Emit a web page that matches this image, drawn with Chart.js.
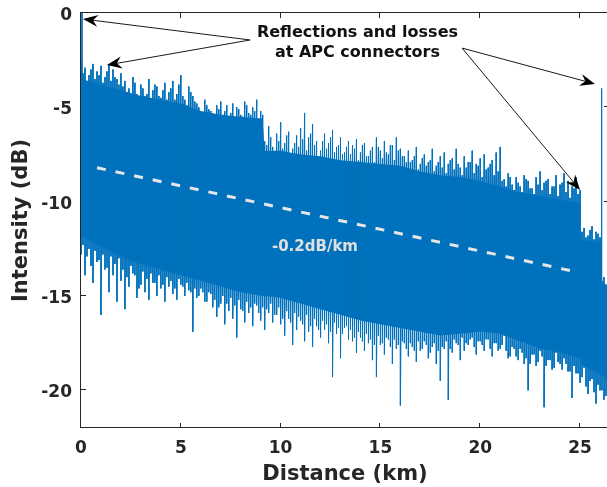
<!DOCTYPE html>
<html>
<head>
<meta charset="utf-8">
<script src="https://cdn.jsdelivr.net/npm/chart.js@4.4.1/dist/chart.umd.min.js"></script>
<style>
  html, body { margin: 0; padding: 0; background: #fff; overflow: hidden; }
  #wrap { width: 620px; height: 487px; }
</style>
</head>
<body>
<div id="wrap"><canvas id="otdr" width="620" height="487"></canvas></div>
<script>
// OTDR trace, noise peaks in dB. traceTop/traceBottom sit at 0.0, 0.2, 0.4 ... km,
// the *Mid arrays at 0.1, 0.3, 0.5 ... km
const traceStepKm = 0.2;
const traceTop = [
  -2.6, -2.9, -3.3, -2.7, -3.1, -2.8, -3.4,
  -2.7, -3.0, -3.5, -3.2,
  -3.6, -4.0, -3.4, -4.3, -3.8, -4.4, -3.5, -4.1, -3.9, -4.5, -3.7, -4.2,
  -3.6, -4.3, -3.3, -4.6, -3.9, -4.4,
  -4.8, -5.3, -4.6, -5.1, -5.5, -4.9, -4.7, -5.2, -5.6, -4.8, -5.0, -5.4, -4.7, -5.3, -5.0, -4.6, -5.2,
  -6.8, -6.0, -7.1, -6.4, -5.8, -6.9, -6.3, -7.2, -6.5, -6.1, -5.3, -6.6, -5.9, -6.8, -7.3, -6.4, -6.9, -6.2, -7.1, -6.6, -7.4, -6.8,
  -7.0, -6.7, -7.4, -6.9, -7.6, -7.1, -6.6, -7.3, -6.8, -7.5, -7.0, -6.6, -7.2, -7.6,
  -7.3, -7.8, -7.1, -8.0, -7.5, -7.9, -7.2, -8.1, -7.6, -7.4, -8.0, -7.7, -7.2, -8.2, -7.6, -7.9, -7.3, -8.0, -7.7, -7.5, -8.2, -7.8, -7.4, -7.1,
  -8.8, -8.5, -9.1, -8.7, -9.2, -8.6, -8.9, -9.3, -8.7, -8.4, -9.0, -8.8, -9.2, -8.6, -9.1, -8.5, -8.9, -9.2, -8.7, -9.4,
  -11.4, -11.8, -11.3, -11.6, -11.9,
  -14.0, -14.3
];
const traceTopMid = [
  -3.2, -3.6, -3.0, -3.5, -3.3, -3.7, -3.1, -3.6, -3.4, -3.8,
  -3.9, -4.2, -4.6, -3.7, -4.5, -4.0, -4.3, -4.7, -3.8, -4.4, -4.1, -4.6,
  -4.0, -4.6, -3.8, -4.4, -4.9, -4.2,
  -4.7, -5.0, -5.4, -4.9, -5.2, -5.6, -5.1, -5.4, -4.9, -5.3, -5.7, -5.1, -5.5, -4.9, -5.4, -5.2, -5.6,
  -5.4,
  -7.0, -6.6, -7.4, -6.8, -7.2, -6.5, -7.5, -6.9, -7.1, -6.7, -7.3, -6.4, -7.0, -7.6, -6.8, -7.2, -6.6, -7.4, -7.0, -7.5, -7.1,
  -7.5, -7.2, -7.8, -7.0, -7.6, -7.3, -7.9, -7.1, -7.7, -7.4, -7.0, -7.8, -7.3, -7.6, -7.9,
  -7.9, -7.6, -8.3, -7.7, -8.1, -7.8, -8.4, -7.9, -8.2, -8.5, -7.8, -8.3, -8.0, -8.6, -8.2, -7.9, -8.5, -8.1, -8.7, -8.3, -8.0, -8.6, -8.4,
  -8.9, -9.2, -8.7, -9.4, -9.0, -9.5, -8.8, -9.3, -9.6, -9.1, -9.4, -8.9, -9.6, -9.2, -9.7, -9.0, -9.5, -9.8, -9.3, -9.6,
  -11.6, -11.9, -11.5, -12.0, -11.7, -14.2,
  -14.4
];
const traceBottom = [
  -12.8, -13.9, -12.5, -14.3, -13.2,
  -16.0,
  -13.6, -14.8, -13.9, -15.3, -14.2, -15.7, -14.5, -13.8, -15.1, -14.4,
  -14.8, -15.2, -14.3, -15.0, -14.6, -15.3, -14.5, -14.9, -15.2, -14.4, -15.0, -14.7, -16.9, -15.1, -14.6, -15.3, -14.8,
  -15.6, -16.1, -15.4, -16.5, -15.8, -16.2, -17.2, -15.7, -16.4, -15.9, -16.6, -15.5, -16.3, -16.8, -15.9, -16.4, -16.0,
  -16.5, -17.1, -16.2, -17.6, -16.8, -16.3, -17.4, -16.9, -17.7, -16.6, -17.2, -16.8, -17.5, -19.3, -17.0, -18.3, -16.7, -17.3,
  -17.4, -18.0, -17.2, -17.9, -17.5, -18.4, -19.3, -17.6, -18.1, -17.3, -18.6, -17.8, -20.8, -17.5, -18.2, -17.7, -18.5,
  -17.9, -17.4, -18.3, -17.7, -18.6, -19.5, -17.8, -20.5, -18.0, -17.5, -18.4, -17.9,
  -17.6, -17.2, -18.1, -17.4, -17.9, -17.3, -18.2, -17.5, -17.8, -17.1, -18.3, -17.7,
  -18.2, -17.8, -18.6, -20.0, -18.1, -18.7, -17.9, -20.9, -18.4, -18.9, -18.0, -18.6, -18.3, -19.0,
  -20.4, -19.1, -19.6, -18.8, -20.2, -19.4, -20.7, -20.0, -20.5, -21.0
];
const traceBottomMid = [
  -12.3, -12.9, -13.4, -12.6, -13.1, -12.8, -13.5, -12.9, -13.3, -13.0,
  -13.6, -14.0, -13.4, -13.9, -14.6, -13.7, -14.1, -13.8, -14.3, -13.9, -14.4, -14.0,
  -14.2, -14.6, -14.1, -14.5, -14.3, -14.8,
  -14.6, -15.0, -14.8, -15.3, -14.9, -15.2, -15.6, -15.0, -15.4, -15.1, -15.5, -15.2, -15.8, -15.3, -15.6, -15.4, -15.9,
  -15.6,
  -15.7, -15.4, -16.0, -15.6, -16.2, -15.8, -16.4, -15.9, -16.1, -16.5, -16.0, -16.6, -16.2, -16.8, -16.3, -16.5, -16.9, -16.4, -16.7, -17.0, -16.6,
  -16.8, -17.2, -16.9, -17.4, -17.0, -17.3, -17.6, -17.1, -17.5, -17.2, -17.7, -17.3, -17.6, -17.4, -17.8,
  -17.5, -17.9, -17.4, -17.8, -17.6, -18.0, -17.5, -17.9, -17.7, -17.4, -17.8, -17.3, -17.6, -17.2, -17.5, -17.3, -17.7, -17.4, -17.6, -17.3, -17.8, -17.5, -17.9,
  -17.6, -17.9, -18.2, -17.8, -18.4, -18.0, -18.3, -18.6, -18.1, -18.5, -18.2, -18.7, -18.4, -18.8, -18.5, -18.9, -18.6, -19.0, -18.7, -19.1,
  -19.3, -19.8, -19.5, -20.1, -19.7, -20.0, -20.3
];

// solid body of the backscatter band
const coreKm     = [0, 1, 2, 3, 4, 5, 6, 7, 8, 9.1, 9.2, 10, 11, 12, 13, 14, 15, 16, 17, 18, 19, 20, 21, 22, 23, 24, 25.0, 25.05, 26.05, 26.1, 26.45];
const coreTop    = [-3.5, -3.8, -4.1, -4.4, -4.6, -4.8, -5.2, -5.4, -5.5, -5.6, -7.3, -7.3, -7.5, -7.6, -7.8, -7.9, -8.0, -8.1, -8.4, -8.6, -8.7, -8.9, -9.2, -9.5, -9.7, -9.9, -10.1, -12.0, -12.2, -14.3, -14.5];
const coreBottom = [-11.8, -12.4, -12.9, -13.3, -13.6, -13.9, -14.2, -14.5, -14.8, -15.0, -15.0, -15.1, -15.4, -15.7, -16.0, -16.3, -16.5, -16.7, -16.9, -17.1, -17.0, -16.9, -17.0, -17.4, -17.8, -18.0, -18.3, -18.6, -19.2, -19.2, -19.6];

// reflections at the APC connectors
const eventKm    = [0.05, 26.08];
const eventPeak  = [0, -4.0];
const eventFloor = [-11.0, -14.5];

// fitted attenuation line
const slopeKm = [0.8, 24.7];
const slopeDb = [-8.2, -13.7];
const slopeText = '-0.2dB/km';

const xTicks = [0, 5, 10, 15, 20, 25];
const yTicks = [-20, -15, -10, -5, 0];

const noteLines = ['Reflections and losses', 'at APC connectors'];

const BLUE = '#0072BD';
const INK = '#262626';
const FONT = '"DejaVu Sans", sans-serif';

// zigzag through upper/lower peaks so each sample becomes a vertical stroke
const tracePts = [];
function addSample(km, hi, lo) {
  tracePts.push({x: km, y: hi}, {x: km, y: lo});
}
traceTop.forEach((hi, i) => {
  const km = i * traceStepKm;
  addSample(+km.toFixed(2), hi, traceBottom[i]);
  if (i < traceTopMid.length) {
    addSample(+(km + traceStepKm / 2).toFixed(2), traceTopMid[i], traceBottomMid[i]);
  }
});

const eventPts = [];
eventKm.forEach((km, i) => {
  if (i) eventPts.push({x: km, y: null});
  eventPts.push({x: km, y: eventPeak[i]}, {x: km, y: eventFloor[i]});
});

// annotation placement, in axis units
const notes = {
  text: {km: 13.85, db: [-1.06, -2.12]},
  slope: {km: 11.72, db: -12.4},
  arrows: [
    {from: [8.47, -1.43], to: [0.10, -0.32]},
    {from: [8.47, -1.43], to: [1.30, -2.76]},
    {from: [19.09, -1.86], to: [25.75, -3.76]},
    {from: [19.09, -1.86], to: [25.00, -9.38]}
  ]
};

function drawArrow(ctx, x0, y0, x1, y1) {
  const ang = Math.atan2(y1 - y0, x1 - x0);
  const len = 15, half = 6, notch = 10;
  ctx.beginPath();
  ctx.moveTo(x0, y0);
  ctx.lineTo(x1 - Math.cos(ang) * notch, y1 - Math.sin(ang) * notch);
  ctx.stroke();
  ctx.save();
  ctx.translate(x1, y1);
  ctx.rotate(ang);
  ctx.beginPath();
  ctx.moveTo(0, 0);
  ctx.lineTo(-len, -half);
  ctx.lineTo(-notch, 0);
  ctx.lineTo(-len, half);
  ctx.closePath();
  ctx.fill();
  ctx.restore();
}

const overlay = {
  id: 'overlay',
  beforeDatasetsDraw(chart) {
    // inward tick marks on all four sides (under the trace)
    const {ctx, chartArea: a, scales: {x, y}} = chart;
    ctx.save();
    ctx.strokeStyle = INK;
    ctx.lineWidth = 1;
    ctx.beginPath();
    xTicks.forEach(v => {
      const px = Math.round(x.getPixelForValue(v)) - 0.5;
      ctx.moveTo(px, a.bottom); ctx.lineTo(px, a.bottom - 5);
      ctx.moveTo(px, a.top); ctx.lineTo(px, a.top + 5);
    });
    yTicks.forEach(v => {
      const py = Math.round(y.getPixelForValue(v)) - 0.5;
      ctx.moveTo(a.left, py); ctx.lineTo(a.left + 5, py);
      ctx.moveTo(a.right, py); ctx.lineTo(a.right - 5, py);
    });
    ctx.stroke();
    ctx.restore();
  },
  afterDatasetsDraw(chart) {
    const {ctx, chartArea: a, scales: {x, y}} = chart;
    ctx.save();
    // box
    ctx.strokeStyle = INK;
    ctx.lineWidth = 1;
    ctx.strokeRect(a.left - 0.5, a.top - 0.5, a.right - a.left, a.bottom - a.top);

    // slope label
    ctx.font = 'bold 15px ' + FONT;
    ctx.fillStyle = '#e0e0e0';
    ctx.textAlign = 'center';
    ctx.textBaseline = 'middle';
    ctx.fillText(slopeText, x.getPixelForValue(notes.slope.km), y.getPixelForValue(notes.slope.db));

    // connector note
    ctx.font = 'bold 16px ' + FONT;
    ctx.fillStyle = '#111';
    noteLines.forEach((t, i) => {
      ctx.fillText(t, x.getPixelForValue(notes.text.km), y.getPixelForValue(notes.text.db[i]));
    });

    ctx.strokeStyle = '#1a1a1a';
    ctx.fillStyle = '#000';
    ctx.lineWidth = 1;
    notes.arrows.forEach(ar => {
      drawArrow(ctx,
        x.getPixelForValue(ar.from[0]), y.getPixelForValue(ar.from[1]),
        x.getPixelForValue(ar.to[0]), y.getPixelForValue(ar.to[1]));
    });
    ctx.restore();
  }
};

// keep the plot box where the layout padding puts it (no room reserved for edge labels)
function noEdgePadding(s) {
  s.paddingTop = 0; s.paddingBottom = 0; s.paddingLeft = 0; s.paddingRight = 0;
}

Chart.defaults.font.family = FONT;
Chart.defaults.color = INK;

new Chart(document.getElementById('otdr'), {
  type: 'line',
  data: {
    datasets: [
      {
        data: coreKm.map((km, i) => ({x: km, y: coreTop[i]})),
        fill: '+1', backgroundColor: BLUE, borderWidth: 0, pointRadius: 0, order: 4
      },
      {
        data: coreKm.map((km, i) => ({x: km, y: coreBottom[i]})),
        fill: false, borderWidth: 0, pointRadius: 0, order: 4
      },
      {
        data: tracePts,
        borderColor: BLUE, borderWidth: 1, borderJoinStyle: 'bevel',
        pointRadius: 0, tension: 0, fill: false, order: 3
      },
      {
        data: eventPts,
        borderColor: BLUE, borderWidth: 1, pointRadius: 0, spanGaps: false, fill: false, order: 2
      },
      {
        data: slopeKm.map((km, i) => ({x: km, y: slopeDb[i]})),
        borderColor: '#e6e6e6', borderWidth: 3, borderDash: [9, 10], borderCapStyle: 'butt',
        pointRadius: 0, fill: false, order: 1
      }
    ]
  },
  options: {
    responsive: false,
    animation: false,
    events: [],
    layout: {padding: {left: 0, top: 13, right: 11, bottom: 0}},
    plugins: {legend: {display: false}, tooltip: {enabled: false}},
    scales: {
      x: {
        type: 'linear', min: 0, max: 26.45,
        grid: {display: false, drawTicks: false},
        border: {display: false},
        afterBuildTicks: s => { s.ticks = xTicks.map(v => ({value: v})); },
        afterFit: s => { s.height = 59; noEdgePadding(s); },
        ticks: {padding: 10, maxRotation: 0, font: {size: 17, weight: 'bold'}, color: INK},
        title: {display: true, text: 'Distance (km)', color: INK,
                font: {size: 21, weight: 'bold', lineHeight: 1.2}, padding: {top: 0, bottom: 0}}
      },
      y: {
        type: 'linear', min: -22, max: 0,
        grid: {display: false, drawTicks: false},
        border: {display: false},
        afterBuildTicks: s => { s.ticks = yTicks.map(v => ({value: v})); },
        afterFit: s => { s.width = 81; noEdgePadding(s); },
        ticks: {padding: 9, labelOffset: 2.5, font: {size: 17, weight: 'bold'}, color: INK},
        title: {display: true, text: 'Intensity (dB)', color: INK,
                font: {size: 21, weight: 'bold', lineHeight: 1.2}, padding: {top: 9, bottom: 0}}
      }
    }
  },
  plugins: [overlay]
});
</script>
</body>
</html>
